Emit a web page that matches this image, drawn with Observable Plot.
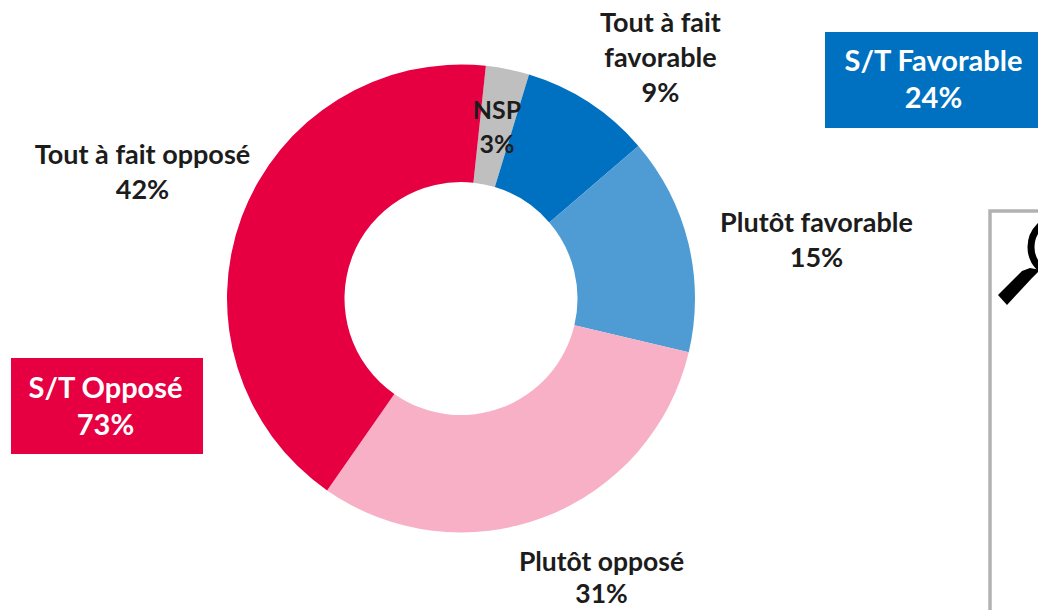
<!DOCTYPE html>
<html>
<head>
<meta charset="utf-8">
<style>html,body{margin:0;padding:0;background:#fff;overflow:hidden}svg{display:block}</style>
<script src="https://cdn.jsdelivr.net/npm/d3@7"></script>
<script src="https://cdn.jsdelivr.net/npm/@observablehq/plot@0.6"></script>
</head>
<body>
<script>
const categories = ["NSP", "Tout à fait favorable", "Plutôt favorable", "Plutôt opposé", "Tout à fait opposé"];
const shares = [3, 9, 15, 31, 42];
const colors = ["#BFBFBF", "#0070C0", "#4F9CD4", "#F7B0C6", "#E60042"];
const slices = categories.map((name, i) => ({name, share: shares[i]}));
const totalLabels = ["S/T Favorable\n24%", "S/T Opposé\n73%"];

const W = 1038, H = 610, cx = 461, cy = 298.5, R = 234, r = 116.5;
const rot = 6.1 * Math.PI / 180;
const font = "Lato, 'Open Sans', sans-serif";

function ring(index, scales, values) {
  const arc = d3.arc().innerRadius(r).outerRadius(R);
  const g = d3.create("svg:g").attr("transform", `translate(${cx},${cy})`);
  for (const i of index) {
    g.append("path")
      .attr("d", arc({startAngle: values.x1[i], endAngle: values.x2[i]}))
      .attr("fill", values.fill[i]);
  }
  return g.node();
}

function panels() {
  const g = d3.create("svg:g");
  g.append("rect").attr("x", 825).attr("y", 32).attr("width", 220).attr("height", 96).attr("fill", "#0070C0");
  g.append("rect").attr("x", 11).attr("y", 358).attr("width", 192).attr("height", 96).attr("fill", "#E60042");
  g.append("path").attr("d", `M990 ${H+5}V211H${W+5}`).attr("fill", "none").attr("stroke", "#B2B2B2").attr("stroke-width", 3.5);
  g.append("circle").attr("cx", 1060).attr("cy", 247).attr("r", 29).attr("fill", "none").attr("stroke", "#000").attr("stroke-width", 7);
  g.append("path").attr("d", "M998 295L1022 271L1030 268L1040 270L1032 278L1007 305Z").attr("fill", "#000");
  return g.node();
}

const label = (text, x, y, fill = "#1c1c1c", fontSize = 27, lineHeight = 1.3) => Plot.text([text], {
  text: d => d,
  frameAnchor: "top-left",
  dx: x, dy: y,
  textAnchor: "middle",
  lineAnchor: "middle",
  lineHeight,
  fontSize,
  fontWeight: 700,
  fontFamily: font,
  fill
});

const plot = Plot.plot({
  width: W, height: H,
  margin: 0,
  x: {domain: [0, 100], range: [rot, rot + 2 * Math.PI], axis: null},
  y: {axis: null},
  color: {domain: categories, range: colors},
  marks: [
    panels,
    Plot.barX(slices, Plot.stackX({x: "share", fill: "name", order: null, render: ring})),
    label(`${categories[4]}\n${shares[4]}%`, 142, 170),
    label("Tout à fait\nfavorable\n" + shares[1] + "%", 660, 55),
    label(`${categories[2]}\n${shares[2]}%`, 816, 238),
    label(`${categories[3]}\n${shares[3]}%`, 601, 576, "#1c1c1c", 26.5, 1.2),
    label(`${categories[0]}\n${shares[0]}%`, 496.5, 125, "#1c1c1c", 25, 1.36),
    label(totalLabels[0], 933, 77, "#fff", 29, 1.27),
    label(totalLabels[1], 105, 404.5, "#fff", 29, 1.27)
  ]
});
document.body.appendChild(plot);
</script>
</body>
</html>
